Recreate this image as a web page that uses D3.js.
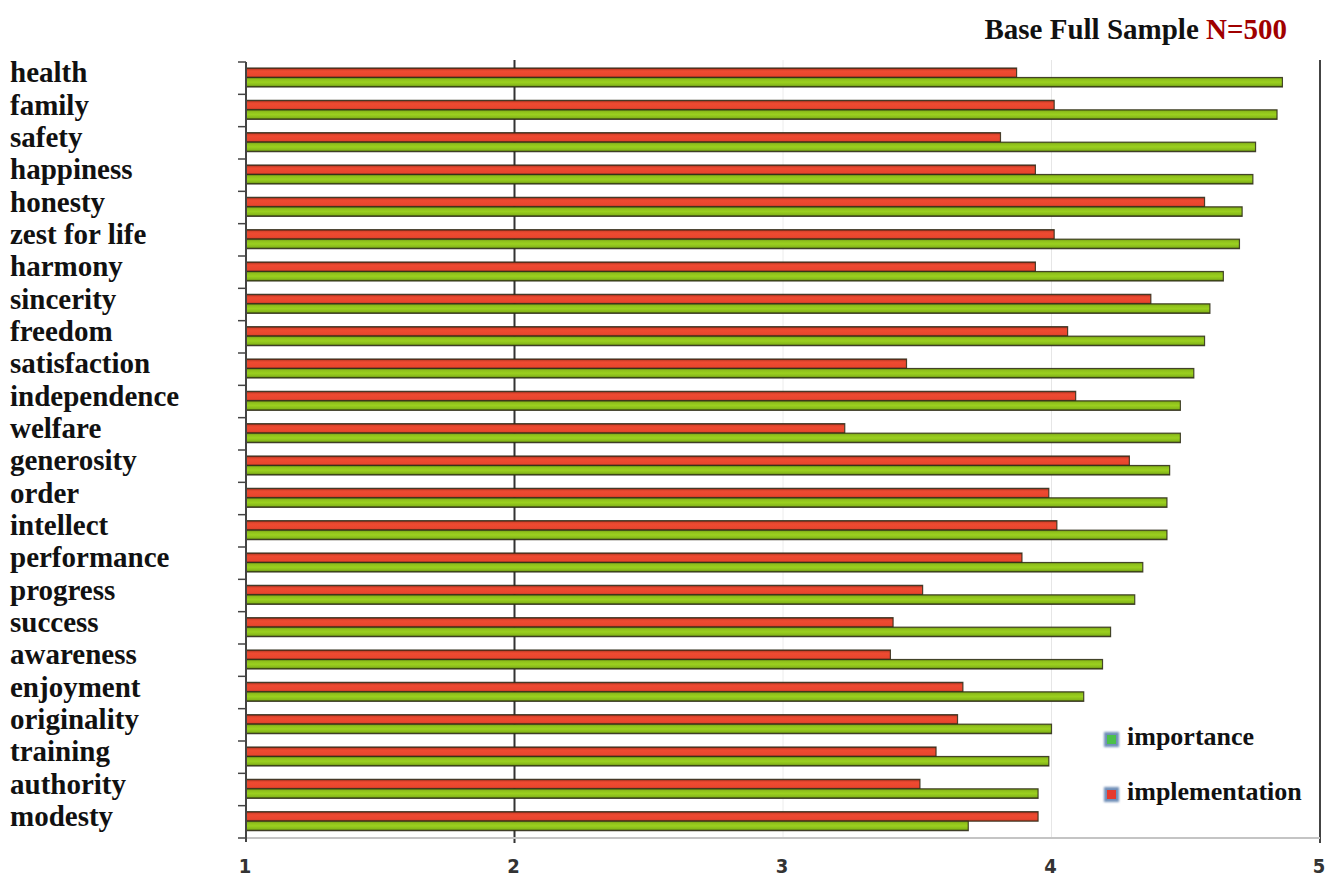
<!DOCTYPE html>
<html>
<head>
<meta charset="utf-8">
<script src="https://cdn.jsdelivr.net/npm/d3@7"></script>
<style>
  html, body { margin: 0; padding: 0; background: #fff; }
  svg { display: block; }
</style>
</head>
<body>
<svg id="chart" width="1333" height="878"></svg>
<script>
// Values by category (scale 1–5), listed from top to bottom
const categories = ["health", "family", "safety", "happiness", "honesty", "zest for life",
  "harmony", "sincerity", "freedom", "satisfaction", "independence", "welfare",
  "generosity", "order", "intellect", "performance", "progress", "success",
  "awareness", "enjoyment", "originality", "training", "authority", "modesty"];

const importance = [4.86, 4.84, 4.76, 4.75, 4.71, 4.70, 4.64, 4.59, 4.57, 4.53, 4.48, 4.48,
  4.44, 4.43, 4.43, 4.34, 4.31, 4.22, 4.19, 4.12, 4.00, 3.99, 3.95, 3.69];

const implementation = [3.87, 4.01, 3.81, 3.94, 4.57, 4.01, 3.94, 4.37, 4.06, 3.46, 4.09, 3.23,
  4.29, 3.99, 4.02, 3.89, 3.52, 3.41, 3.40, 3.67, 3.65, 3.57, 3.51, 3.95];

const xTicks = [1, 2, 3, 4, 5];
const seriesNames = ["implementation", "importance"];
const legendOrder = ["importance", "implementation"];

const svg = d3.select("#chart");
const plotLeft = 246, plotRight = 1320, plotTop = 62, plotBottom = 838;

const x = d3.scaleLinear().domain([1, 5]).range([plotLeft, plotRight]);
const y = d3.scaleBand().domain(categories).range([plotTop, plotBottom]);
const inner = d3.scaleBand().domain(seriesNames).range([6, 25]);

// Bar shading
const defs = svg.append("defs");
function grad(id, stops) {
  const g = defs.append("linearGradient").attr("id", id)
    .attr("x1", 0).attr("y1", 0).attr("x2", 0).attr("y2", 1);
  stops.forEach(([o, c]) => g.append("stop").attr("offset", o).attr("stop-color", c));
}
grad("gRed", [[0, "#6e2416"], [0.18, "#d9432b"], [0.35, "#ee4a31"], [0.8, "#e8462e"], [1, "#a8341f"]]);
grad("gGreen", [[0, "#6f9614"], [0.2, "#8fc01c"], [0.5, "#9bd01f"], [0.82, "#86b81a"], [1, "#34420f"]]);
const fillOf = { implementation: "url(#gRed)", importance: "url(#gGreen)" };

const sBlur = defs.append("filter").attr("id", "soft").attr("x", "-50%").attr("y", "-50%")
  .attr("width", "200%").attr("height", "200%");
sBlur.append("feGaussianBlur").attr("stdDeviation", 1.2);

// Gridlines
const gridColor = { 2: "#333", 3: "#ececec", 4: "#e6e6e6", 5: "#444" };
svg.append("g").selectAll("line").data([2, 3, 4, 5]).join("line")
  .attr("x1", d => x(d)).attr("x2", d => x(d))
  .attr("y1", plotTop - 2)
  .attr("y2", d => (d === 2 || d === 5) ? plotBottom + 5 : plotBottom)
  .attr("stroke", d => gridColor[d])
  .attr("stroke-width", d => (d === 2 || d === 5) ? 2 : 1);

// Bottom axis line
svg.append("line").attr("x1", plotLeft).attr("x2", plotRight).attr("y1", plotBottom).attr("y2", plotBottom)
  .attr("stroke", "#c4c4c4").attr("stroke-width", 2);

// Bars
const rows = categories.map((c, i) => ({ c, implementation: implementation[i], importance: importance[i] }));
const groups = svg.append("g").selectAll("g").data(rows).join("g")
  .attr("transform", d => `translate(0,${y(d.c)})`);
groups.selectAll("rect").data(d => seriesNames.map(k => ({ k, v: d[k] }))).join("rect")
  .attr("x", x(1))
  .attr("y", d => inner(d.k))
  .attr("width", d => x(d.v) - x(1))
  .attr("height", inner.bandwidth())
  .attr("fill", d => fillOf[d.k])
  .attr("stroke", "#2e2c18")
  .attr("stroke-opacity", 0.85)
  .attr("stroke-width", 1.2);

// Left axis with ticks on band boundaries
const yAxis = svg.append("g");
yAxis.append("line").attr("x1", plotLeft).attr("x2", plotLeft).attr("y1", plotTop).attr("y2", plotBottom + 4)
  .attr("stroke", "#444").attr("stroke-width", 2);
const boundaries = categories.map(c => y(c)).concat([plotBottom]);
yAxis.selectAll("line.tick").data(boundaries).join("line").attr("class", "tick")
  .attr("x1", plotLeft - 8).attr("x2", plotLeft).attr("y1", d => d).attr("y2", d => d)
  .attr("stroke", "#444").attr("stroke-width", 1.5);

// Category labels
svg.append("g").selectAll("text").data(categories).join("text")
  .attr("x", 10)
  .attr("y", d => y(d) + y.bandwidth() / 2 + 4)
  .attr("font-family", "'Liberation Serif', 'Times New Roman', serif")
  .attr("font-weight", "bold")
  .attr("font-size", 29)
  .attr("fill", "#111")
  .text(d => d);

// X tick labels
svg.append("g").selectAll("text").data(xTicks).join("text")
  .attr("x", d => x(d) - 1)
  .attr("y", 873)
  .attr("text-anchor", "middle")
  .attr("font-family", "'DejaVu Sans Condensed', 'Liberation Sans Narrow', 'DejaVu Sans', sans-serif")
  .attr("font-weight", "bold")
  .attr("font-size", 20)
  .attr("fill", "#333")
  .text(d => d);

// Title
const title = svg.append("text")
  .attr("x", 1287).attr("y", 39).attr("text-anchor", "end")
  .attr("font-family", "'Liberation Serif', 'Times New Roman', serif")
  .attr("font-weight", "bold").attr("font-size", 29).attr("fill", "#111");
title.append("tspan").text("Base Full Sample ");
title.append("tspan").attr("fill", "#a00000").text("N=500");

// Legend
const legendColor = { importance: "#4cc04a", implementation: "#e63a2c" };
const legend = svg.append("g").selectAll("g").data(legendOrder).join("g")
  .attr("transform", (d, i) => `translate(1105,${733 + i * 55})`);
legend.append("rect").attr("x", -1).attr("y", -1).attr("width", 15).attr("height", 15)
  .attr("fill", "#6f8fb8").attr("filter", "url(#soft)");
legend.append("rect").attr("x", 2).attr("y", 2).attr("width", 9).attr("height", 9)
  .attr("fill", d => legendColor[d]);
legend.append("text").attr("x", 22).attr("y", 12)
  .attr("font-family", "'Liberation Serif', 'Times New Roman', serif")
  .attr("font-weight", "bold").attr("font-size", 26).attr("fill", "#111")
  .text(d => d);
</script>
</body>
</html>
